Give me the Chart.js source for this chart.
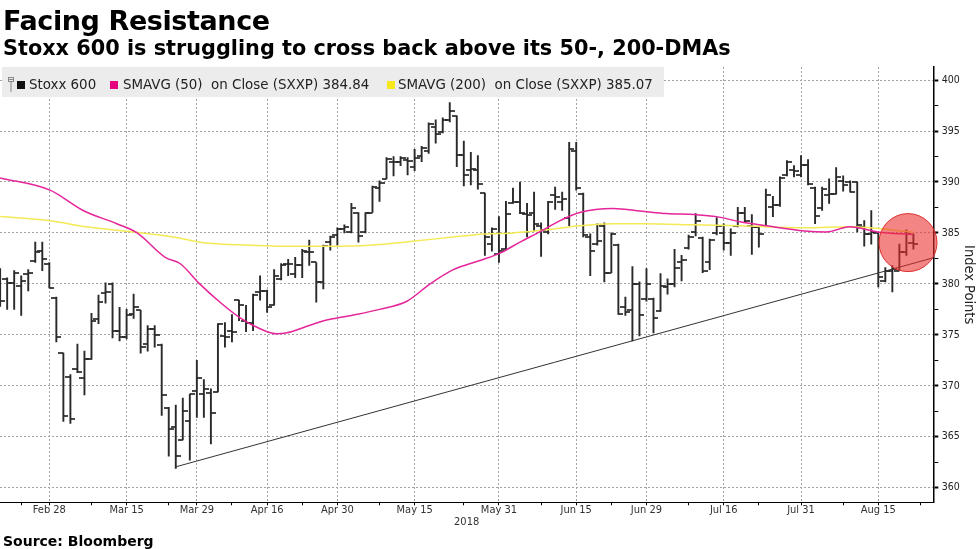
<!DOCTYPE html>
<html><head><meta charset="utf-8">
<script src="https://cdn.jsdelivr.net/npm/chart.js@4.4.1/dist/chart.umd.min.js"></script>
<style>
html,body{margin:0;padding:0;background:#fff;width:977px;height:549px;overflow:hidden;}
#wrap{position:relative;width:977px;height:549px;}
#c{position:absolute;left:0;top:0;}
.t{position:absolute;left:3px;font-family:'DejaVu Sans',sans-serif;font-weight:bold;color:#000;line-height:1;white-space:nowrap;}
#title{top:7px;font-size:27px;letter-spacing:-0.4px;}
#sub{top:37.5px;font-size:20.8px;}
#src{top:534px;font-size:14px;}
#legend{position:absolute;left:2px;top:67px;width:662px;height:30px;background:#ececec;font-family:'DejaVu Sans Condensed','DejaVu Sans',sans-serif;font-stretch:condensed;font-size:14.9px;color:#222;white-space:pre;}
#legend .sw{position:absolute;top:14px;width:8px;height:8px;}
#legend .tx{position:absolute;top:10px;line-height:1;white-space:pre;}
#legend svg{position:absolute;left:6px;top:10px;}
</style></head>
<body><div id="wrap">
<canvas id="c" width="977" height="549"></canvas>
<div class="t" id="title">Facing Resistance</div>
<div class="t" id="sub">Stoxx 600 is struggling to cross back above its 50-, 200-DMAs</div>
<div id="legend"></div>
<div class="t" id="src">Source: Bloomberg</div>
</div>
<script>
// ---- data (trading-day index 0 = Feb 19, 2018) ----
const openV  = [380.5,380.5,380.1,379.8,381.0,382.2,383.2,382.0,378.6,373.2,370.9,371.6,370.8,372.6,376.6,379.1,380.0,375.4,374.8,377.0,377.4,374.1,375.6,374.0,
367.8,366.0,364.7,366.5,369.5,369.2,369.3,369.4,374.9,375.4,378.4,376.4,376.2,379.2,379.3,377.9,380.5,382.0,381.0,381.9,383.1,382.1,380.2,
384.1,384.8,385.4,385.1,387.0,385.1,387.0,389.4,390.3,392.0,392.0,392.2,391.5,392.5,393.0,395.4,394.9,396.1,396.5,392.6,391.2,391.2,
388.9,383.9,382.9,383.4,387.9,388.0,386.9,387.0,385.7,385.1,388.7,388.0,386.5,393.0,388.8,384.6,383.9,385.7,381.1,383.8,377.7,377.4,380.0,
378.5,378.5,377.3,379.7,380.0,382.1,383.5,385.1,384.5,382.1,385.0,385.0,384.0,385.7,387.0,385.7,385.6,385.7,387.5,387.7,390.7,391.2,390.7,
391.7,389.4,387.4,388.7,388.8,390.1,390.0,390.0,385.6,384.9,385.0,380.3,381.3,381.3,383.1,384.0];
const highV  = [381.5,380.6,381.3,380.8,381.4,384.1,384.1,382.1,378.7,373.2,371.1,374.1,373.4,377.1,378.9,380.1,380.1,377.7,377.5,379.0,377.4,375.9,375.9,374.1,
367.9,368.1,368.8,369.2,372.5,370.6,369.7,376.1,376.2,377.0,378.4,377.9,379.0,380.8,379.4,381.4,382.0,382.4,382.6,383.4,384.3,382.1,383.8,
384.7,385.5,385.8,387.9,387.0,387.0,389.6,390.1,392.4,392.5,392.5,392.4,393.2,393.5,395.8,396.1,396.3,397.8,396.5,394.0,392.9,392.6,
388.9,385.5,386.6,388.1,389.4,390.0,387.9,389.0,386.0,388.1,389.5,389.0,393.9,393.9,388.9,384.9,385.9,386.0,385.0,383.9,378.7,381.7,380.2,
381.5,378.6,381.0,380.5,383.4,382.8,384.8,386.9,384.6,384.4,386.5,385.9,385.4,387.5,387.5,386.8,385.6,389.3,388.6,390.5,392.1,391.6,392.6,
392.2,389.5,389.5,390.3,391.4,390.6,390.1,390.0,386.2,387.2,385.0,381.6,381.8,383.9,385.3,384.9];
const lowV   = [377.8,377.5,377.5,376.9,379.3,382.1,381.3,379.6,374.3,366.5,366.3,371.3,369.1,372.6,376.1,378.1,374.7,374.4,374.6,376.6,373.2,373.4,373.8,367.1,
363.1,361.9,364.7,362.7,366.9,366.9,364.3,369.4,373.8,374.3,376.4,375.3,375.4,378.4,377.2,377.9,380.4,380.8,380.6,380.6,381.8,378.2,379.5,
383.3,383.8,385.0,385.0,384.1,385.0,387.0,388.1,390.3,390.6,391.6,390.7,391.1,392.0,392.8,393.8,394.8,395.9,391.5,389.6,389.7,389.3,
382.8,383.2,382.1,383.4,387.9,386.9,384.6,385.2,382.7,384.9,387.3,387.2,385.7,389.2,384.6,380.8,383.8,380.2,381.1,377.0,376.9,374.4,374.9,
378.3,375.2,377.3,379.0,379.7,380.3,383.4,384.7,381.1,381.4,384.8,383.3,382.8,385.6,386.1,382.9,383.6,385.7,386.6,387.6,390.6,390.5,390.5,
389.7,385.9,387.2,387.9,388.8,389.1,389.0,385.1,383.7,383.9,379.7,380.2,379.2,381.3,382.8,383.4];
const closeV = [378.3,380.1,381.1,380.3,381.1,383.1,382.4,379.6,374.8,367.0,366.7,371.4,372.6,376.4,378.2,379.2,375.4,374.8,376.9,377.7,373.8,375.6,375.0,369.1,
365.8,363.1,367.5,369.2,370.8,369.7,367.3,376.1,374.8,375.3,377.9,376.2,378.9,379.3,377.7,380.8,381.9,382.0,381.9,383.2,383.1,380.2,383.7,
384.6,385.4,385.6,387.4,384.7,387.0,389.5,389.9,392.3,392.0,392.4,392.1,392.4,393.3,395.7,394.7,396.1,397.0,392.6,390.7,391.3,389.8,
384.6,385.4,383.2,386.9,388.0,387.0,386.8,385.9,385.3,388.0,388.5,388.3,393.2,389.4,384.8,383.2,384.2,381.1,384.9,377.0,377.2,380.0,376.9,
380.0,376.7,379.8,380.0,381.6,382.3,384.6,386.2,381.3,384.3,385.7,384.0,385.0,387.0,386.2,385.6,384.9,388.7,387.7,390.4,392.0,391.1,391.7,
389.8,386.7,389.3,388.8,390.5,389.7,389.0,385.8,384.9,385.1,380.7,381.3,381.5,383.1,384.9,383.9];

const sma50X = [0,7.1,11.8,16.6,19.5,23.5,25.6,28.4,31.3,34.1,37.0,39.4,40.8,43.1,46.2,50,54,57.9,61.2,64.5,68.3,71.1,74.0,76.8,79.7,82.5,87.2,91.7,94.8,98.9,102,105.3,109.1,114.5,117.6,120.9,124.9,130];
const sma50Y = [390.4,389.2,387.2,385.9,385.0,382.6,382.0,380.0,378.2,376.7,375.6,375.1,375.2,375.7,376.4,376.9,377.5,378.3,380.0,381.4,382.3,383.0,384.1,385.1,386.2,387.0,387.4,387.1,386.9,386.8,386.6,386.1,385.7,385.2,385.1,385.6,385.1,384.84];
const sma200X = [0,7.1,12.3,18.9,24.6,29.4,35.6,40.3,46.7,52.6,59,64.5,69,73,77.8,82.5,87.2,91.7,98.9,105.3,114.5,120.9,130];
const sma200Y = [386.6,386.2,385.6,385.1,384.6,384.0,383.8,383.7,383.7,383.8,384.2,384.6,384.9,385.0,385.3,385.7,385.9,385.9,385.8,385.7,385.5,385.6,385.07];
const trendX = [25, 132.83];
const trendY = [362.05, 382.56];
const highlightX = [129.23];
const highlightY = [384.05];

const xTickIdx = [7,18,28,38,48,59,71,82,92,103,114,125];
const xTickLabels = ['Feb 28','Mar 15','Mar 29','Apr 16','Apr 30','May 15','May 31','Jun 15','Jun 29','Jul 16','Jul 31','Aug 15'];
const xMinorIdx = [3,13,24,33,43,54,66,77,87,98,108,120,131];
const yMajor = [360,365,370,375,380,385,390,395,400];
const yMinor = [362.5,367.5,372.5,377.5,382.5,387.5,392.5,397.5];
const seriesNames = ['Stoxx 600','SMAVG (50)  on Close (SXXP)','SMAVG (200)  on Close (SXXP)'];
const sma50Last = 384.84, sma200Last = 385.07;
const xTitle = '2018', yTitle = 'Index Points';

// ---- legend ----
const legendCols = ['#111111','#e6007e','#f7e81c'];
const legendSw = [15,108,385];
const legendTx = [27,121,396];
const legendText = [seriesNames[0], seriesNames[1]+' '+sma50Last.toFixed(2), seriesNames[2]+' '+sma200Last.toFixed(2)];
const lg = document.getElementById('legend');
lg.innerHTML = '<svg width="6" height="15" viewBox="0 0 6 15"><rect x="0.5" y="0.5" width="5" height="4" fill="none" stroke="#888" stroke-width="1"/><line x1="3" y1="4.5" x2="3" y2="15" stroke="#888" stroke-width="1"/><line x1="0.5" y1="2.5" x2="5.5" y2="2.5" stroke="#888"/></svg>';
legendText.forEach((t,i)=>{
  const s=document.createElement('div'); s.className='sw'; s.style.left=legendSw[i]+'px'; s.style.background=legendCols[i]; lg.appendChild(s);
  const d=document.createElement('div'); d.className='tx'; d.style.left=legendTx[i]+'px'; d.textContent=t; lg.appendChild(d);
});

// ---- OHLC tick images ----
function tickImg(side){
  const c=document.createElement('canvas'); const L=4;
  c.width=2*L+2; c.height=2;
  const g=c.getContext('2d'); g.fillStyle='rgba(40,40,40,0.85)';
  if(side==='left') g.fillRect(0,0,L+1,2); else g.fillRect(L+1,0,L+1,2);
  return c;
}
const FONT="'DejaVu Sans Condensed','DejaVu Sans',sans-serif";
const xy = (xs,ys)=>xs.map((x,i)=>({x, y:ys[i]}));
const idx = openV.map((_,i)=>i);

new Chart(document.getElementById('c'), {
  type:'bar',
  data:{datasets:[
    {type:'line', label:'highlight', data:xy(highlightX,highlightY), showLine:false, pointRadius:29,
     pointBackgroundColor:'rgba(235,45,45,0.58)', pointBorderColor:'#dd3030', pointBorderWidth:1, order:0, clip:false},
    {type:'line', label:seriesNames[1], data:xy(sma50X,sma50Y), borderColor:'#e5259a', borderWidth:1.5, pointRadius:0, cubicInterpolationMode:'monotone', order:1},
    {type:'line', label:seriesNames[2], data:xy(sma200X,sma200Y), borderColor:'#f3ea55', borderWidth:1.5, pointRadius:0, cubicInterpolationMode:'monotone', order:1},
    {type:'line', label:'trend', data:xy(trendX,trendY), borderColor:'#333', borderWidth:1, pointRadius:0, order:2},
    {type:'line', label:'open', data:xy(idx,openV), showLine:false, pointStyle:tickImg('left'), pointRadius:5, order:3},
    {type:'line', label:'close', data:xy(idx,closeV), showLine:false, pointStyle:tickImg('right'), pointRadius:5, order:3},
    {type:'bar', label:seriesNames[0], data:idx.map(i=>({x:i, y:[lowV[i],highV[i]]})), backgroundColor:'#2a2a2a', borderWidth:0, barThickness:1.25, grouped:false, order:4}
  ]},
  options:{
    responsive:false, animation:false, events:[],
    layout:{autoPadding:false, padding:{top:67,left:0,right:0,bottom:20}},
    plugins:{legend:{display:false}, tooltip:{enabled:false}},
    scales:{
      x:{type:'linear', min:-0.02, max:132.83, offset:false,
        afterBuildTicks:s=>{s.ticks=[...xTickIdx,...xMinorIdx].sort((a,b)=>a-b).map(v=>({value:v}));},
        afterFit:s=>{s.height=26.7;},
        ticks:{autoSkip:false, maxRotation:0, minRotation:0, padding:-1.5, color:'#333', font:{family:FONT,size:11},
          callback:v=>{const k=xTickIdx.indexOf(v); return k>=0?xTickLabels[k]:'';}},
        grid:{offset:false, color:c=>xTickIdx.includes(c.tick&&c.tick.value)?'#a3a3a3':'rgba(0,0,0,0)', lineWidth:1,
          tickLength:3, tickColor:'#000', tickWidth:1, tickBorderDash:[]},
        border:{display:true, color:'#000', width:1, dash:[2,2]},
        title:{display:true, text:xTitle, color:'#333', font:{family:FONT,size:11}, padding:{top:0,bottom:0}}
      },
      y:{position:'right', min:358.57, max:401.28,
        afterBuildTicks:s=>{s.ticks=[...yMajor,...yMinor].sort((a,b)=>a-b).map(v=>({value:v}));},
        afterFit:s=>{s.width=43.7;},
        ticks:{padding:3.5, color:'#222', font:{family:FONT,size:10.5}, callback:v=>yMajor.includes(v)?String(v):''},
        grid:{color:c=>yMajor.includes(c.tick&&c.tick.value)?'#a3a3a3':'rgba(0,0,0,0)', lineWidth:1,
          tickLength:5, tickColor:'#000', tickWidth:c=>yMajor.includes(c.tick&&c.tick.value)?2:1, tickBorderDash:[]},
        border:{display:true, color:'#000', width:1.5, dash:[2,2]},
        title:{display:true, text:yTitle, color:'#222', font:{family:FONT,size:14.5}, padding:{top:0,bottom:0}}
      }
    }
  }
});
</script>
</body></html>
